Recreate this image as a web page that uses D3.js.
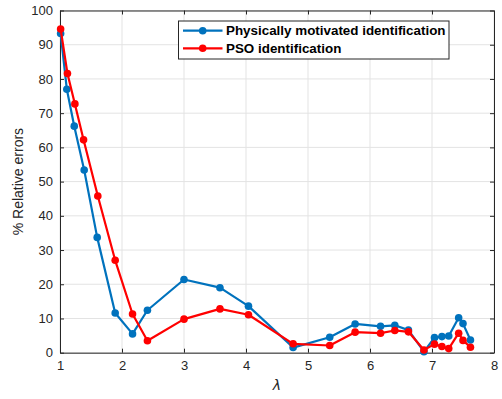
<!DOCTYPE html>
<html>
<head>
<meta charset="utf-8">
<script src="https://cdn.jsdelivr.net/npm/d3@7"></script>
<style>
  html, body { margin: 0; padding: 0; background: #fff; }
  svg { display: block; font-family: "Liberation Sans", Arial, Helvetica, sans-serif; }
</style>
</head>
<body>
<svg id="chart" width="502" height="399"></svg>
<script>
// Wavelength-like parameter (λ) at which the identification errors were evaluated
const lambdaPhys = [1.01, 1.11, 1.23, 1.39, 1.60, 1.89, 2.17, 2.41, 3.00, 3.58, 4.04, 4.76, 5.35, 5.76, 6.17, 6.40, 6.62, 6.87, 7.04, 7.16, 7.27, 7.43, 7.50, 7.62];
const errPhys    = [93.3, 77.0, 66.2, 53.4, 33.7, 11.6, 5.5, 12.4, 21.4, 19.0, 13.6, 1.5, 4.5, 8.4, 7.7, 8.0, 6.6, 0.3, 4.4, 4.7, 4.9, 10.2, 8.5, 3.7];

const lambdaPSO = [1.01, 1.12, 1.24, 1.38, 1.61, 1.89, 2.17, 2.41, 3.00, 3.58, 4.04, 4.76, 5.35, 5.76, 6.17, 6.40, 6.62, 6.87, 7.04, 7.16, 7.27, 7.43, 7.50, 7.62];
const errPSO    = [94.6, 81.6, 72.7, 62.2, 45.8, 27.0, 11.3, 3.5, 9.8, 12.8, 11.1, 2.6, 2.1, 6.0, 5.7, 6.5, 6.1, 0.8, 2.5, 1.8, 1.2, 5.7, 3.6, 1.6];

const seriesNames = ["Physically motivated identification", "PSO identification"];
const xTicks = [1, 2, 3, 4, 5, 6, 7, 8];
const yTicks = [0, 10, 20, 30, 40, 50, 60, 70, 80, 90, 100];

const colors = ["#0072BD", "#FF0000"];
const axisColor = "#262626";

const margin = { left: 60, right: 8, top: 10.5, bottom: 46.3 };
const W = 502, H = 399;
const innerW = W - margin.left - margin.right;
const innerH = H - margin.top - margin.bottom;

const svg = d3.select("#chart");
const g = svg.append("g").attr("transform", `translate(${margin.left},${margin.top})`);

const x = d3.scaleLinear().domain([1, 8]).range([0, innerW]);
const y = d3.scaleLinear().domain([0, 100]).range([innerH, 0]);

// grid
g.append("g").selectAll("line.gx").data(xTicks).join("line")
  .attr("x1", d => x(d)).attr("x2", d => x(d)).attr("y1", 0).attr("y2", innerH)
  .attr("stroke", "#e3e3e3").attr("stroke-width", 1);
g.append("g").selectAll("line.gy").data(yTicks).join("line")
  .attr("x1", 0).attr("x2", innerW).attr("y1", d => y(d)).attr("y2", d => y(d))
  .attr("stroke", "#e3e3e3").attr("stroke-width", 1);

// axes (ticks pointing inward, box on all sides)
const styleAxis = sel => {
  sel.select(".domain").attr("stroke", axisColor);
  sel.selectAll(".tick line").attr("stroke", axisColor);
  sel.selectAll(".tick text").attr("fill", axisColor).style("font-size", "13px")
     .style("font-family", "'Liberation Sans', Arial, sans-serif");
};
g.append("g").attr("transform", `translate(0,${innerH})`)
  .call(d3.axisBottom(x).tickValues(xTicks).tickFormat(d3.format("d")).tickSizeInner(-4).tickSizeOuter(0).tickPadding(8))
  .call(styleAxis);
g.append("g")
  .call(d3.axisLeft(y).tickValues(yTicks).tickFormat(d3.format("d")).tickSizeInner(-4).tickSizeOuter(0).tickPadding(7))
  .call(styleAxis);
g.append("g")
  .call(d3.axisTop(x).tickValues(xTicks).tickFormat("").tickSizeInner(-4).tickSizeOuter(0))
  .call(styleAxis);
g.append("g").attr("transform", `translate(${innerW},0)`)
  .call(d3.axisRight(y).tickValues(yTicks).tickFormat("").tickSizeInner(-4).tickSizeOuter(0))
  .call(styleAxis);

// series
const series = [
  { name: seriesNames[0], xs: lambdaPhys, ys: errPhys, color: colors[0] },
  { name: seriesNames[1], xs: lambdaPSO, ys: errPSO, color: colors[1] }
];
const line = d3.line().x(d => x(d[0])).y(d => y(d[1]));
series.forEach(s => {
  const pts = s.xs.map((v, i) => [v, s.ys[i]]);
  g.append("path").datum(pts).attr("d", line)
    .attr("fill", "none").attr("stroke", s.color).attr("stroke-width", 2.2).attr("stroke-linejoin", "round");
  g.append("g").selectAll("circle").data(pts).join("circle")
    .attr("cx", d => x(d[0])).attr("cy", d => y(d[1])).attr("r", 3.8)
    .attr("fill", s.color);
});

// axis labels
svg.append("text")
  .attr("x", margin.left + innerW / 2).attr("y", 390)
  .attr("text-anchor", "middle").attr("fill", axisColor)
  .style("font-size", "14px").style("font-style", "italic")
  .style("font-family", "'DejaVu Sans', 'Liberation Sans', sans-serif")
  .text("λ");
svg.append("text")
  .attr("transform", `translate(23,${margin.top + innerH / 2}) rotate(-90)`)
  .attr("text-anchor", "middle").attr("fill", axisColor)
  .style("font-size", "14px")
  .text("% Relative errors");

// legend
const lg = svg.append("g").attr("transform", "translate(178.5,21)");
lg.append("rect").attr("width", 270.5).attr("height", 38)
  .attr("fill", "#fff").attr("stroke", axisColor).attr("stroke-width", 1);
series.forEach((s, i) => {
  const yy = 9.7 + i * 17.6;
  lg.append("line").attr("x1", 4.5).attr("x2", 44).attr("y1", yy).attr("y2", yy)
    .attr("stroke", s.color).attr("stroke-width", 2.2);
  lg.append("circle").attr("cx", 24.2).attr("cy", yy).attr("r", 3.8).attr("fill", s.color);
  lg.append("text").attr("x", 47.5).attr("y", yy + 4.6)
    .style("font-size", "13.4px").style("font-weight", "bold").attr("fill", "#000")
    .text(s.name);
});
</script>
</body>
</html>
